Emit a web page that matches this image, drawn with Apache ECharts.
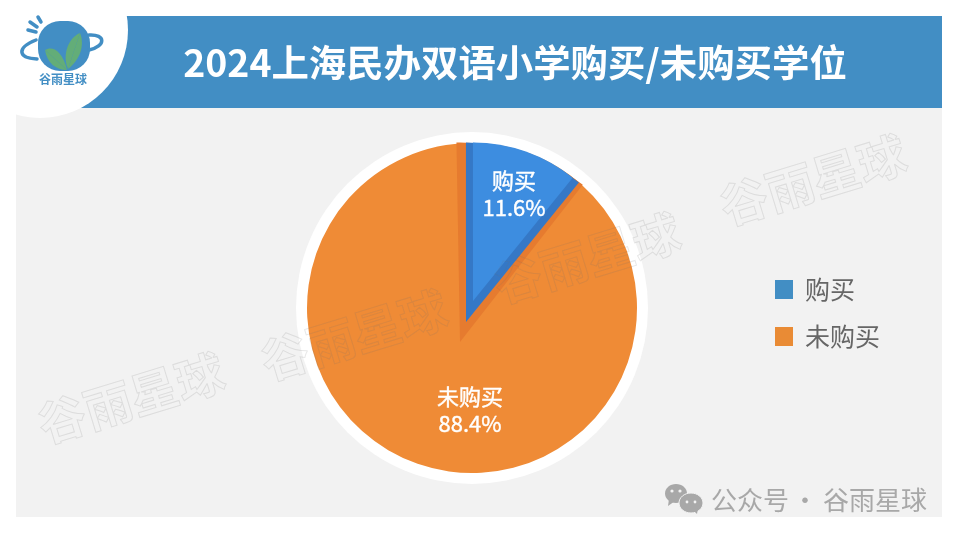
<!DOCTYPE html>
<html>
<head>
<meta charset="utf-8">
<style>html,body{margin:0;padding:0;background:#fff}#chart{width:960px;height:539px}</style>
<script src="https://cdn.jsdelivr.net/npm/echarts@6/dist/echarts.min.js"></script>
</head>
<body>
<div id="chart"></div>
<script>
const categories = ["购买", "未购买"];
const shares = [11.6, 88.4];
const titleText = "2024上海民办双语小学购买/未购买学位";
const brand = "谷雨星球";

const CJK = '"Noto Sans CJK SC", "Noto Sans", sans-serif';
const BLUE = "#428ec4";
const ORANGE = "#ef8b36";
const chart = echarts.init(document.getElementById("chart"), null, { renderer: "canvas" });

const pieData = (buyColor, restColor) =>
  categories.map((name, i) => ({
    name,
    value: shares[i],
    itemStyle: { color: i === 0 ? buyColor : restColor },
  }));

// bevelled wedge: same values drawn again from a shifted apex
const wedge = (cx, cy, r, color, startAngle, extra) => ({
  type: "pie",
  center: [cx, cy],
  radius: [0, r],
  startAngle,
  padAngle: 2.76,
  animation: false,
  silent: true,
  label: { show: false },
  labelLine: { show: false },
  data: pieData(color, "transparent"),
  ...extra,
});

const watermark = (x, y) => ({
  type: "text",
  x,
  y,
  rotation: (17 * Math.PI) / 180,
  z: 100,
  silent: true,
  style: {
    text: brand,
    font: `bold 48px ${CJK}`,
    fill: "transparent",
    stroke: "rgba(110,110,110,0.16)",
    lineWidth: 1,
    align: "center",
    verticalAlign: "middle",
  },
});

const curve = (x1, y1, cpx1, cpy1, cpx2, cpy2, x2, y2, style) => ({
  type: "bezierCurve",
  z: 6,
  shape: { x1, y1, cpx1, cpy1, cpx2, cpy2, x2, y2 },
  style,
});
const logoLine = { fill: "none", stroke: BLUE, lineWidth: 3.5, lineCap: "round" };
const leaf = { fill: "#63ad78", stroke: "none" };
const bubble = { fill: "#a8a8a8" };
const eye = { fill: "#f2f2f2" };
const footerText = (text, x, align) => ({
  type: "text", z: 6, x, y: 500,
  style: { text, font: `26px ${CJK}`, fill: "#a8a8a8", align, verticalAlign: "middle" },
});

const graphics = [
  { type: "rect", z: -5, shape: { x: 16, y: 108, width: 926, height: 409 }, style: { fill: "#f2f2f2" } },
  { type: "rect", z: -4, shape: { x: 16, y: 16, width: 926, height: 92 }, style: { fill: BLUE } },
  { type: "circle", z: -3, shape: { cx: 40, cy: 30, r: 88 }, style: { fill: "#fff" } },
  { type: "circle", z: -2, shape: { cx: 472, cy: 308, r: 176 }, style: { fill: "#fff" } },
  // logo
  { type: "rect", z: 5, shape: { x: 38, y: 21, width: 52, height: 50, r: 22 }, style: { fill: BLUE } },
  curve(45, 50, 53, 45, 63, 52, 67, 70, leaf),
  curve(45, 50, 47, 63, 56, 70, 67, 70, leaf),
  curve(80, 33, 85, 45, 80, 60, 68, 69, leaf),
  curve(80, 33, 68, 38, 62, 55, 68, 69, leaf),
  curve(36, 40, 16, 48, 18, 58, 37, 59, logoLine),
  curve(89, 35, 106, 34, 106, 46, 89, 50, logoLine),
  { type: "line", z: 6, shape: { x1: 28, y1: 30, x2: 36, y2: 32 }, style: logoLine },
  { type: "line", z: 6, shape: { x1: 30, y1: 22, x2: 37, y2: 27 }, style: logoLine },
  { type: "line", z: 6, shape: { x1: 38, y1: 17, x2: 41, y2: 22 }, style: logoLine },
  {
    type: "text", z: 6, x: 63, y: 79,
    style: { text: brand, font: `bold 12px ${CJK}`, fill: BLUE, align: "center", verticalAlign: "middle" },
  },
  // watermarks
  watermark(131, 398),
  watermark(354, 335),
  watermark(587, 258),
  watermark(813, 180),
  // footer mark
  { type: "ellipse", z: 6, shape: { cx: 676, cy: 493.5, rx: 11, ry: 9.5 }, style: bubble },
  { type: "polygon", z: 6, shape: { points: [[669, 499], [668, 506], [675, 501]] }, style: bubble },
  { type: "ellipse", z: 6, shape: { cx: 691, cy: 503, rx: 12, ry: 10 }, style: { fill: "#a8a8a8", stroke: "#f2f2f2", lineWidth: 1 } },
  { type: "polygon", z: 6, shape: { points: [[694, 511], [697, 514], [698, 508]] }, style: bubble },
  { type: "circle", z: 7, shape: { cx: 672, cy: 491, r: 1.6 }, style: eye },
  { type: "circle", z: 7, shape: { cx: 680, cy: 491, r: 1.6 }, style: eye },
  { type: "circle", z: 7, shape: { cx: 687, cy: 502, r: 1.4 }, style: eye },
  { type: "circle", z: 7, shape: { cx: 695, cy: 502, r: 1.4 }, style: eye },
  footerText("公众号", 711, "left"),
  footerText("·", 805, "center"),
  footerText(brand, 823, "left"),
];

const labelSpots = [
  { x: 514, y: 194 },
  { x: 470, y: 410 },
];

chart.setOption({
  animation: false,
  backgroundColor: "#fff",
  title: {
    text: titleText,
    left: 510,
    top: 58,
    textAlign: "center",
    textVerticalAlign: "middle",
    textStyle: { color: "#fff", fontFamily: CJK, fontSize: 37.4, fontWeight: "bold" },
  },
  legend: {
    orient: "vertical",
    left: 770,
    top: 272,
    itemWidth: 18,
    itemHeight: 19,
    itemGap: 22,
    icon: "rect",
    selectedMode: false,
    textStyle: { color: "#666", fontFamily: CJK, fontSize: 25, padding: [0, 0, 0, 7] },
    data: [
      { name: categories[0], itemStyle: { color: BLUE } },
      { name: categories[1], itemStyle: { color: "#e98b35" } },
    ],
  },
  graphic: graphics,
  series: [
    {
      type: "pie",
      center: [472, 308],
      radius: [0, 165],
      startAngle: 90,
      animation: false,
      silent: true,
      label: { show: false },
      labelLine: { show: false },
      data: pieData(ORANGE, ORANGE),
    },
    wedge(460, 342, 199.5, "#e67b2f", 92.4),
    wedge(466, 322, 179.5, "#3578c6", 91.4),
    wedge(473, 301, 158.5, "#3d8de0", 91.4, {
      data: pieData("#3d8de0", "transparent"),
      label: {
        show: true,
        position: "inside",
        formatter: "{b}\n{d}%",
        color: "#fff",
        fontFamily: CJK,
        fontSize: 22,
        fontWeight: "normal",
        lineHeight: 27,
        textBorderColor: "#fff",
        textBorderWidth: 0.4,
        align: "center",
        verticalAlign: "middle",
      },
      labelLayout: (p) => ({ ...labelSpots[p.dataIndex], align: "center", verticalAlign: "middle" }),
    }),
  ],
});
</script>
</body>
</html>
